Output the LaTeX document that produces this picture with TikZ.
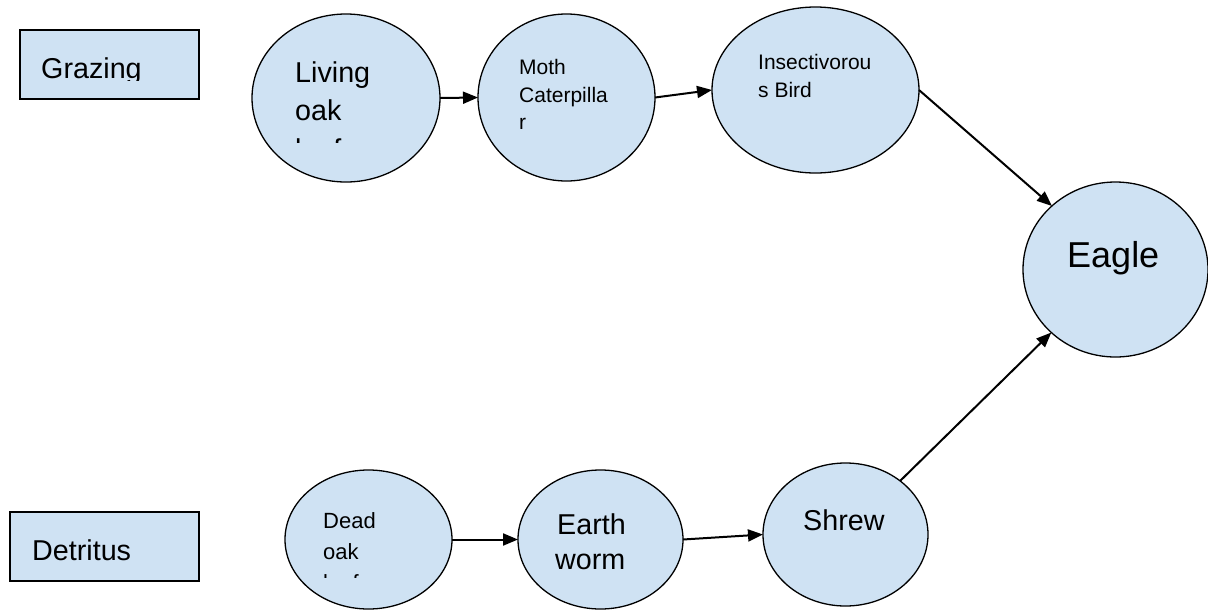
\documentclass[tikz,border=0pt]{standalone}
\usepackage{fontspec}
\setmainfont{Liberation Sans}
\usetikzlibrary{shapes.geometric,arrows.meta}
\definecolor{foodblue}{RGB}{207,226,243}

\begin{document}
\begin{tikzpicture}[x=1pt,y=-1pt,
    organism/.style={ellipse,draw,fill=foodblue,line width=1.3pt,inner sep=0pt,outer sep=0pt},
    chain box/.style={rectangle,draw,fill=foodblue,line width=1.6pt,inner sep=0pt,outer sep=0pt},
    txt/.style={anchor=base west,inner sep=0pt},
    large/.style={font=\fontsize{28.7}{34}\selectfont},
    small/.style={font=\fontsize{21}{25}\selectfont},
    feeds/.style={draw,-{Triangle[length=15pt,width=12pt]},line width=2pt}
   ]
  \useasboundingbox (0,0) rectangle (1208,611);

  % chain labels
  \node[chain box,minimum width=179pt,minimum height=69pt] (grazing) at (109.5,64.5) {};
  \node[chain box,minimum width=189pt,minimum height=69pt] (detritus) at (104.5,546.5) {};

  % grazing chain
  \node[organism,minimum width=188pt,minimum height=168pt] (living) at (346,98) {};
  \node[organism,minimum width=177pt,minimum height=167pt] (moth) at (566.5,97.5) {};
  \node[organism,minimum width=207pt,minimum height=166pt] (insect) at (815.5,90) {};
  \node[organism,minimum width=185pt,minimum height=175pt] (eagle) at (1115.5,269.5) {};

  % detritus chain
  \node[organism,minimum width=167pt,minimum height=139pt] (dead) at (368.5,539.5) {};
  \node[organism,minimum width=165pt,minimum height=139pt] (earth) at (600.5,539.5) {};
  \node[organism,minimum width=165pt,minimum height=143pt] (shrew) at (845.5,534.5) {};

  % texts
  \begin{scope}
    \clip (20,30) rectangle (199,80);
    \node[txt,large] (grazingtxt) at (41,78) {Grazing};
  \end{scope}
  \node[txt,large] (detritustxt) at (32,560) {Detritus};

  \node[txt,large] (living1) at (295,82) {Living};
  \node[txt,large] (living2) at (295,120) {oak};
  \begin{scope}
    \clip (280,125) rectangle (420,142);
    \node[txt,large] (living3) at (295,159) {leaf};
  \end{scope}

  \node[txt,small] (moth1) at (519,74) {Moth};
  \node[txt,small] (moth2) at (519,102) {Caterpilla};
  \node[txt,small] (moth3) at (519,129) {r};

  \node[txt,small] (insect1) at (758,69) {Insectivorou};
  \node[txt,small] (insect2) at (758,97) {s Bird};

  \node[txt,font=\fontsize{36}{43}\selectfont] (eagletxt) at (1067,267) {Eagle};

  \node[txt,font=\fontsize{22}{26}\selectfont] (dead1) at (323,528) {Dead};
  \node[txt,font=\fontsize{22}{26}\selectfont] (dead2) at (323,559) {oak};
  \begin{scope}
    \clip (300,565) rectangle (430,577);
    \node[txt,font=\fontsize{22}{26}\selectfont] (dead3) at (323,590) {leaf};
  \end{scope}

  \node[txt,large] (earth1) at (557,534) {Earth};
  \node[txt,large] (earth2) at (555,569) {worm};

  \node[txt,large] (shrewtxt) at (803,530) {Shrew};

  % arrows
  \path
   (living.east) edge[feeds] (moth.west)
   (moth.east) edge[feeds] (insect.west)
   (insect.east) edge[feeds] (eagle.135)
   (dead.east) edge[feeds] (earth.west)
   (earth.east) edge[feeds] (shrew.west)
   (shrew) edge[feeds] (eagle);
\end{tikzpicture}
\end{document}
